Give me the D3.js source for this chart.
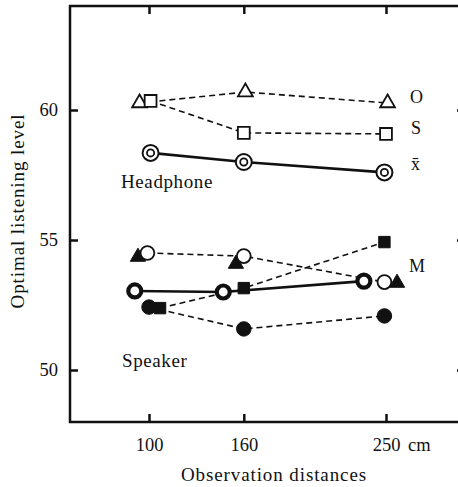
<!DOCTYPE html>
<html>
<head>
<meta charset="utf-8">
<script src="https://cdn.jsdelivr.net/npm/d3@7"></script>
<style>
  body { margin: 0; background: #fff; }
  svg text { font-family: "Liberation Serif", "DejaVu Serif", serif !important; fill: #111; }
</style>
</head>
<body>
<svg id="chart" width="458" height="487" font-family="Liberation Serif, serif"></svg>
<script>
// x values are the plotted distances (markers are nudged sideways in the original)
const distTicks = [100, 160, 250];
const levelTicks = [50, 55, 60];

// headphone
const hpO_x = [94, 161, 251];
const hpO_y = [60.27, 60.69, 60.27];
const hpS_x = [101, 160, 250];
const hpS_y = [60.35, 59.12, 59.08];
const hpMean_x = [101, 160, 249];
const hpMean_y = [58.35, 58.0, 57.6];

// speaker
const spOpen_x = [99, 160, 249];
const spOpen_y = [54.5, 54.38, 53.38];
const spTri_x = [93, 155, 257];
const spTri_y = [54.35, 54.08, 53.35];
const spSq_x = [107, 160, 249];
const spSq_y = [52.38, 53.15, 54.92];
const spDot_x = [100, 160, 249];
const spDot_y = [52.42, 51.58, 52.08];
const spMean_x = [91, 147, 236];
const spMean_y = [53.04, 53.0, 53.42];

const svg = d3.select('#chart');
const x = d3.scaleLinear().domain([50, 300]).range([70, 465]);
const y = d3.scaleLinear().domain([48, 64]).range([422, 6]);
const font = 'Liberation Serif, serif';

// frame + inward ticks
svg.append('rect')
    .attr('x', x(50)).attr('y', y(64))
    .attr('width', x(300) - x(50)).attr('height', y(48) - y(64))
    .attr('fill', 'none').attr('stroke', '#111').attr('stroke-width', 2.5);

function styleAxis(g) {
    g.attr('font-family', font);
    g.select('.domain').remove();
    g.selectAll('.tick line').attr('stroke', '#111').attr('stroke-width', 2.5);
    g.selectAll('.tick text').attr('font-size', 18.5).attr('fill', '#111');
}

svg.append('g').attr('transform', `translate(0,${y(48)})`)
    .call(d3.axisBottom(x).tickValues(distTicks).tickSize(-8).tickPadding(16))
    .call(styleAxis);
svg.append('g').attr('transform', `translate(0,${y(64)})`)
    .call(d3.axisTop(x).tickValues(distTicks).tickSize(-8).tickFormat(''))
    .call(styleAxis);
svg.append('g').attr('transform', `translate(${x(50)},0)`)
    .call(d3.axisLeft(y).tickValues(levelTicks).tickSize(-8).tickPadding(12))
    .call(styleAxis);
svg.append('g').attr('transform', `translate(${x(300)},0)`)
    .call(d3.axisRight(y).tickValues(levelTicks).tickSize(-8).tickFormat(''))
    .call(styleAxis);

svg.append('text').attr('x', 408).attr('y', 451).attr('font-size', 18.5).text('cm');
svg.append('text').attr('x', 274).attr('y', 481).attr('text-anchor', 'middle')
    .attr('font-size', 19).attr('letter-spacing', 0.9).text('Observation distances');
svg.append('text').attr('transform', 'translate(24,211) rotate(-90)')
    .attr('text-anchor', 'middle').attr('font-size', 19).attr('letter-spacing', 0.9)
    .text('Optimal listening level');

// lines
function drawLine(xs, ys, dashed, width) {
    const pts = xs.map((d, i) => [x(d), y(ys[i])]);
    svg.append('path').attr('d', d3.line()(pts))
        .attr('fill', 'none').attr('stroke', '#111')
        .attr('stroke-width', width)
        .attr('stroke-dasharray', dashed ? '6,4' : null);
}
drawLine(hpO_x, hpO_y, true, 1.6);
drawLine(hpS_x, hpS_y, true, 1.6);
drawLine(hpMean_x, hpMean_y, false, 2.6);
drawLine(spOpen_x, spOpen_y, true, 1.6);
drawLine(spSq_x, spSq_y, true, 1.6);
drawLine(spDot_x, spDot_y, true, 1.6);
drawLine(spMean_x, spMean_y, false, 2.6);

// markers
function symbols(xs, ys, type, size, filled) {
    svg.append('g').selectAll('path').data(xs).join('path')
        .attr('transform', (d, i) => `translate(${x(d)},${y(ys[i])})`)
        .attr('d', d3.symbol().type(type).size(size))
        .attr('fill', filled ? '#111' : '#fff')
        .attr('stroke', '#111').attr('stroke-width', filled ? 1 : 1.8);
}
function doubleCircle(xs, ys, thick) {
    const g = svg.append('g').selectAll('g').data(xs).join('g')
        .attr('transform', (d, i) => `translate(${x(d)},${y(ys[i])})`);
    if (thick) {
        g.append('circle').attr('r', 6.5).attr('fill', '#fff')
            .attr('stroke', '#111').attr('stroke-width', 4.2);
        g.append('circle').attr('r', 2).attr('fill', '#fff');
    } else {
        g.append('circle').attr('r', 8).attr('fill', '#fff')
            .attr('stroke', '#111').attr('stroke-width', 2);
        g.append('circle').attr('r', 3.6).attr('fill', '#fff')
            .attr('stroke', '#111').attr('stroke-width', 1.8);
    }
}

symbols(hpO_x, hpO_y, d3.symbolTriangle, 95, false);
symbols(hpS_x, hpS_y, d3.symbolSquare, 140, false);
doubleCircle(hpMean_x, hpMean_y, false);

symbols(spTri_x, spTri_y, d3.symbolTriangle, 100, true);
symbols(spOpen_x, spOpen_y, d3.symbolCircle, 150, false);
symbols(spSq_x, spSq_y, d3.symbolSquare, 130, true);
symbols(spDot_x, spDot_y, d3.symbolCircle, 165, true);
doubleCircle(spMean_x, spMean_y, true);

// labels
const lab = (tx, ty, t, fs, ls) => svg.append('text').attr('x', tx).attr('y', ty)
    .attr('font-size', fs).attr('letter-spacing', ls || 0).text(t);
lab(410, 103, 'O', 18);
lab(411, 134, 'S', 18);
lab(411, 170, 'x\u0304', 18);
lab(409, 272, 'M', 18);
lab(121, 188, 'Headphone', 19, 0.6);
lab(122, 367, 'Speaker', 19, 0.6);
</script>
</body>
</html>
